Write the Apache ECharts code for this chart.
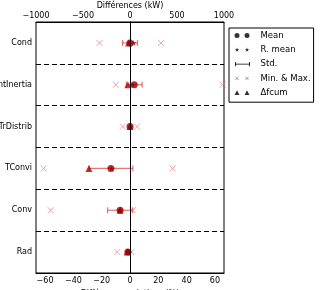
<!DOCTYPE html>
<html>
<head>
<meta charset="utf-8">
<script src="https://cdn.jsdelivr.net/npm/echarts@6/dist/echarts.min.js"></script>
<style>
  html, body { margin: 0; padding: 0; background: #fff; }
  #chart { width: 321px; height: 290px; }
</style>
</head>
<body>
<div id="chart"></div>
<script>
// données (différences relatives en %)
var categories = ['Cond', 'IntInertia', 'TrDistrib', 'TConvi', 'Conv', 'Rad'];
var meanVals  = [0, 3, 0, -13.5, -7, -1.5];
var rmeanVals = [2.5, 2, 0.5, -13, -7, -1];
var stdVals   = [5.3, 5.6, 0.5, 15.5, 8.8, 1];
var minVals   = [-21.5, -10, -5, -61, -56, -9];
var maxVals   = [22, 65.5, 5, 30, 2, 1];
var dfcumVals = [-1, -1.5, 0, -29, -7, -2];
var relTicks  = [-60, -40, -20, 0, 20, 40, 60];

var meanColor = '#9e0000';
var triColor = '#b00000';
var stdColor = 'rgba(220,70,70,0.75)';
var xColor = 'rgba(240,110,110,0.8)';
var font = 'DejaVu Sans';

function minus(v) {
    return String(v).replace('-', '\u2212');
}

function starPath(cx, cy, R, r) {
    var d = '';
    for (var i = 0; i < 10; i++) {
        var a = Math.PI / 5 * i;
        var rr = i % 2 ? r : R;
        d += (i ? 'L' : 'M') + (cx + rr * Math.sin(a)).toFixed(3) + ',' + (cy - rr * Math.cos(a)).toFixed(3);
    }
    return d + 'Z';
}

function pairs(vals) {
    return vals.map(function (v, i) { return [v, categories[i]]; });
}

var stdData = meanVals.map(function (m, i) { return [m - stdVals[i], m + stdVals[i], i]; });
var minMaxData = pairs(minVals).concat(pairs(maxVals));

var chart = echarts.init(document.getElementById('chart'));

var box = 'M0,0M21,6';
option = {
    backgroundColor: '#fff',
    animation: false,
    textStyle: { fontFamily: font },
    grid: {
        left: 36, right: 97, top: 22, bottom: 17,
        containLabel: false,
        outerBoundsMode: 'none',
        show: true, borderColor: '#000', borderWidth: 1
    },
    legend: {
        left: 229, top: 28,
        orient: 'vertical',
        padding: [2, 3, 4, 3],
        itemGap: 3.3,
        itemWidth: 21, itemHeight: 6,
        borderColor: '#000', borderWidth: 1,
        backgroundColor: '#fff',
        textStyle: { fontSize: 8.5, lineHeight: 11, color: '#000', fontFamily: font },
        data: [
            { name: 'Mean', icon: 'path://' + box + 'M0,3a2.5,2.5 0 1,0 5,0a2.5,2.5 0 1,0 -5,0M10,3a2.5,2.5 0 1,0 5,0a2.5,2.5 0 1,0 -5,0',
              itemStyle: { color: '#000', borderWidth: 0 } },
            { name: 'R. mean', icon: 'path://' + box + starPath(2.5, 3, 2.3, 0.9) + starPath(12.5, 3, 2.3, 0.9),
              itemStyle: { color: '#000', borderWidth: 0 } },
            { name: 'Std.', icon: 'path://' + box + 'M0.5,2.6h15v0.8h-15zM0.5,0.8h0.8v4.4h-0.8zM14.7,0.8h0.8v4.4h-0.8z',
              itemStyle: { color: '#000', borderWidth: 0 } },
            { name: 'Min. & Max.', icon: 'path://' + box + 'M0.8,1.3L4.2,4.7M0.8,4.7L4.2,1.3M10.8,1.3L14.2,4.7M10.8,4.7L14.2,1.3',
              itemStyle: { color: 'none', borderColor: '#666', borderWidth: 0.8 } },
            { name: '\u0394fcum', icon: 'path://' + box + 'M2.5,0.6L5,5.2L0,5.2ZM12.5,0.6L15,5.2L10,5.2Z',
              itemStyle: { color: '#000', borderWidth: 0 } }
        ]
    },
    xAxis: [
        {
            type: 'value',
            min: -66.4, max: 66.4,
            name: 'Différences relatives (%)',
            nameLocation: 'middle', nameGap: 17,
            nameMoveOverlap: false,
            nameTextStyle: { fontSize: 8, color: '#000' },
            axisLine: { show: true, lineStyle: { color: '#000' } },
            axisTick: { inside: true, length: 4, customValues: relTicks, lineStyle: { color: '#000' } },
            axisLabel: { customValues: relTicks, fontSize: 8, color: '#000', margin: 4, formatter: minus },
            splitLine: { show: false }
        },
        {
            type: 'value',
            position: 'top',
            min: -1000, max: 1000, interval: 500,
            name: 'Différences (kW)',
            nameLocation: 'middle', nameGap: 12,
            nameMoveOverlap: false,
            nameTextStyle: { fontSize: 8, color: '#000' },
            axisLine: { show: true, lineStyle: { color: '#000' } },
            axisTick: { inside: true, length: 4, lineStyle: { color: '#000' } },
            axisLabel: { fontSize: 8, color: '#000', margin: 2, formatter: minus },
            splitLine: { show: false }
        }
    ],
    yAxis: [
        {
            type: 'category',
            data: categories,
            inverse: true,
            axisLine: { show: true, lineStyle: { color: '#000' } },
            axisTick: { inside: true, alignWithLabel: true, length: 4, lineStyle: { color: '#000' } },
            axisLabel: { fontSize: 8, color: '#000', margin: 4 },
            splitLine: { show: true, lineStyle: { color: '#000', type: [5, 3], width: 1 } }
        },
        {
            type: 'category',
            data: categories,
            inverse: true,
            position: 'right',
            axisLine: { show: true, lineStyle: { color: '#000' } },
            axisTick: { inside: true, alignWithLabel: true, length: 4, lineStyle: { color: '#000' } },
            axisLabel: { show: false },
            splitLine: { show: false }
        }
    ],
    series: [
        {
            name: 'Std.',
            type: 'custom',
            xAxisIndex: 0, yAxisIndex: 0,
            encode: { x: [0, 1], y: 2 },
            data: stdData,
            renderItem: function (params, api) {
                var lo = api.coord([api.value(0), api.value(2)]);
                var hi = api.coord([api.value(1), api.value(2)]);
                var y = lo[1];
                var st = { stroke: stdColor, lineWidth: 1.2, fill: null };
                return {
                    type: 'group',
                    children: [
                        { type: 'line', shape: { x1: lo[0], y1: y, x2: hi[0], y2: y }, style: st },
                        { type: 'line', shape: { x1: lo[0], y1: y - 3, x2: lo[0], y2: y + 3 }, style: st },
                        { type: 'line', shape: { x1: hi[0], y1: y - 3, x2: hi[0], y2: y + 3 }, style: st }
                    ]
                };
            }
        },
        {
            name: 'Min. & Max.',
            type: 'scatter',
            clip: true,
            symbol: 'path://M0,0L10,10M0,10L10,0',
            symbolSize: 6,
            itemStyle: { color: 'none', borderColor: xColor, borderWidth: 1 },
            data: minMaxData,
            markLine: {
                silent: true,
                symbol: ['none', 'none'],
                label: { show: false },
                lineStyle: { color: '#000', type: 'solid', width: 1 },
                data: [{ xAxis: 0 }]
            }
        },
        {
            name: '\u0394fcum',
            type: 'scatter',
            symbol: 'triangle',
            symbolSize: 7,
            itemStyle: { color: triColor },
            data: pairs(dfcumVals)
        },
        {
            name: 'Mean',
            type: 'scatter',
            symbol: 'circle',
            symbolSize: 7,
            itemStyle: { color: meanColor },
            data: pairs(meanVals)
        },
        {
            name: 'R. mean',
            type: 'scatter',
            symbol: 'path://' + starPath(0, 0, 5, 2),
            symbolSize: 6,
            itemStyle: { color: meanColor },
            data: pairs(rmeanVals)
        }
    ]
};

chart.setOption(option);
</script>
</body>
</html>
